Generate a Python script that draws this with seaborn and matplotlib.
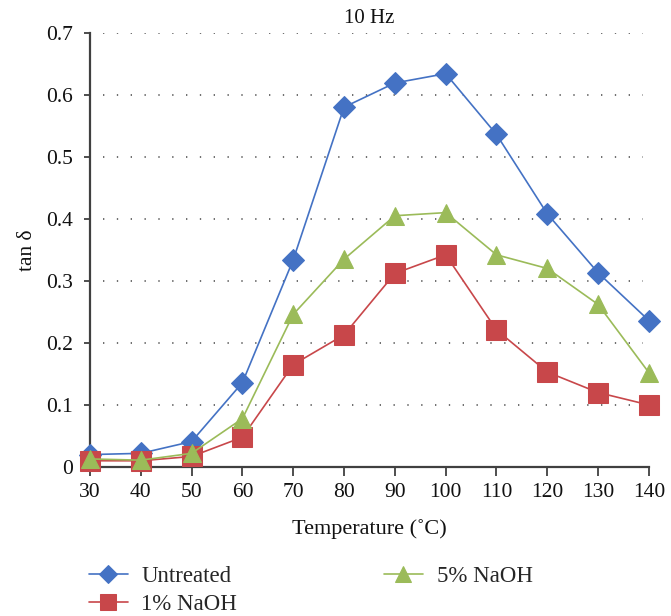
import matplotlib
matplotlib.use("Agg")
import matplotlib.pyplot as plt
import seaborn as sns
import pandas as pd
from matplotlib.ticker import FuncFormatter

temperature = [30, 40, 50, 60, 70, 80, 90, 100, 110, 120, 130, 140]
untreated = [0.020, 0.022, 0.041, 0.136, 0.334, 0.580, 0.619, 0.634, 0.536, 0.408, 0.313, 0.236]
naoh_1 = [0.010, 0.010, 0.017, 0.048, 0.165, 0.213, 0.312, 0.342, 0.221, 0.153, 0.120, 0.100]
naoh_5 = [0.013, 0.011, 0.022, 0.078, 0.246, 0.335, 0.405, 0.410, 0.342, 0.320, 0.262, 0.152]
series_names = ["Untreated", "1% NaOH", "5% NaOH"]

df = pd.concat([
    pd.DataFrame({"T": temperature, "v": untreated, "s": series_names[0]}),
    pd.DataFrame({"T": temperature, "v": naoh_1, "s": series_names[1]}),
    pd.DataFrame({"T": temperature, "v": naoh_5, "s": series_names[2]}),
])

sns.set_theme(style="white")
plt.rcParams['font.family'] = ['Liberation Serif', 'DejaVu Serif']

colors = {"Untreated": "#4472C4", "1% NaOH": "#C8474A", "5% NaOH": "#9BBB59"}
markers = {"Untreated": "D", "1% NaOH": "s", "5% NaOH": "^"}
msizes = {"Untreated": 11, "1% NaOH": 14, "5% NaOH": 13}

fig = plt.figure(figsize=(6.71, 6.16), dpi=100)
ax = fig.add_axes([0.1341, 0.2419, 0.833, 0.705])

for name in series_names:
    sub = df[df["s"] == name]
    sns.lineplot(data=sub, x="T", y="v", ax=ax, color=colors[name],
                 marker=markers[name], markersize=msizes[name],
                 markeredgecolor=colors[name], linewidth=1.2,
                 clip_on=False, label=name, legend=False, zorder=3)

ax.set_xlim(30, 140)
ax.set_ylim(0, 0.7)
ax.set_xticks(temperature)
ax.set_yticks([0, 0.1, 0.2, 0.3, 0.4, 0.5, 0.6, 0.7])
ax.yaxis.set_major_formatter(FuncFormatter(lambda v, p: "0" if abs(v) < 1e-9 else f"{v:.1f}"))

for y in [0.1, 0.2, 0.3, 0.4, 0.5, 0.6, 0.7]:
    ax.axhline(y, xmin=0.023, xmax=0.99, color="#555555", linestyle=(0, (0.8, 7.5)),
               linewidth=1.2, zorder=1)

for side in ["top", "right"]:
    ax.spines[side].set_visible(False)
for side in ["left", "bottom"]:
    ax.spines[side].set_color("#404040")
    ax.spines[side].set_linewidth(1.6)

ax.tick_params(axis="x", direction="out", length=6.5, width=1.3, color="#404040",
               labelsize=15.5, labelcolor="#111111", pad=5, bottom=True)
ax.tick_params(axis="y", direction="out", length=4, width=1.3, color="#404040",
               labelsize=15.5, labelcolor="#111111", pad=8, left=True)

ax.set_xlabel("Temperature (˚C)", fontsize=16, color="#111111", labelpad=12)
ax.set_ylabel("tan δ", fontsize=15.5, color="#111111", labelpad=7)
ax.set_title("10 Hz", fontsize=15, color="#111111", pad=7)

h, l = ax.get_legend_handles_labels()
order = [l.index("Untreated"), l.index("1% NaOH"), l.index("5% NaOH")]
leg = fig.legend([h[i] for i in order], [l[i] for i in order],
                 loc="upper left", bbox_to_anchor=(0.1115, 0.103), ncol=2,
                 frameon=False, fontsize=16.5, handlelength=1.7,
                 columnspacing=6.4, labelspacing=0.3, handletextpad=0.6,
                 markerscale=0.85, borderaxespad=0.2)

fig.savefig("out.png", dpi=100)
